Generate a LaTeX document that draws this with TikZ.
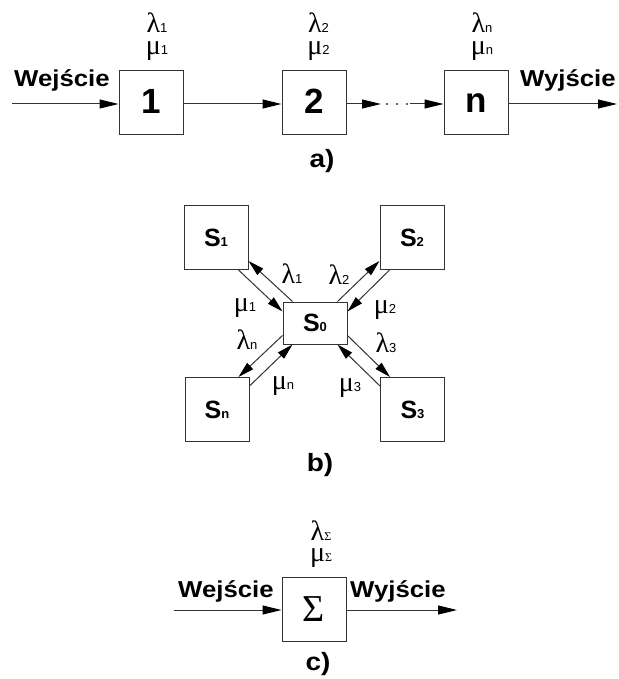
\documentclass[tikz,border=0pt]{standalone}
\usepackage{fontspec}
\setmainfont{Liberation Serif}
\newfontfamily\lsans{Liberation Sans}
\newfontfamily\lwide[FakeStretch=1.12]{Liberation Sans}
\usetikzlibrary{arrows.meta}
\newcommand\gk[2]{{\fontsize{28}{28}\selectfont #1}{\fontsize{13}{13}\selectfont #2}}
\newcommand\gpair[3]{\vtop{\baselineskip=#3\lineskiplimit=-40pt\lineskip=0pt\halign{\hfil##\hfil\cr\gk{λ}{#1}\cr\gk{μ}{#2}\cr}}}
\newcommand\ssub[1]{{\fontsize{13}{13}\selectfont #1}}
\tikzset{
  box/.style={draw=black!80, line width=1pt, inner sep=0pt, minimum width=64pt, minimum height=64pt},
  ln/.style={draw=black!80, line width=1pt},
  arr/.style={ln, -{Triangle[length=19pt,width=9pt,color=black]}},
  arrb/.style={ln, -{Triangle[length=16pt,width=8.5pt,color=black]}},
  big/.style={font=\lsans\bfseries\fontsize{35}{35}\selectfont},
  sfont/.style={font=\lsans\bfseries\fontsize{25}{25}\selectfont},
  lbl/.style={font=\lwide\bfseries\fontsize{23}{23}\selectfont, inner sep=0pt},
  captxt/.style={font=\lwide\bfseries\fontsize{25}{25}\selectfont, inner sep=0pt},
  gl/.style={inner sep=0pt, anchor=base, text depth=0pt},
  gm/.style={inner sep=0pt, anchor=base, text height=12pt},
  gp/.style={inner sep=0pt, anchor=base},
}
\begin{document}
\begin{tikzpicture}[x=1pt,y=-1pt]
\useasboundingbox (0,0) rectangle (618,679);
% ---------- a) ----------
\node[box,big] (b1) at (151,103) {\raisebox{3pt}{1}};
\node[box,big] (b2) at (314,103) {\raisebox{3pt}{2}};
\node[box,big] (bn) at (476,103) {n};
\coordinate (inA) at (12,104);
\coordinate (outA) at (617,104);
\coordinate (d1) at (381,104);
\coordinate (d2) at (410,104);
\draw[arr] (inA) -- (inA -| b1.west);
\draw[arr] (b1.east |- inA) -- (b2.west |- inA);
\draw[arr] (b2.east |- inA) -- (d1);
\fill[black!80] (387,104) circle (1.1pt) (397,104) circle (1.1pt) (407,104) circle (1.1pt);
\draw[arr] (d2) -- (d2 -| bn.west);
\draw[arr] (bn.east |- outA) -- (outA);
\node[gp] (p1) at (157,33) {\gpair{\lsans 1}{\lsans 1}{22pt}};
\node[gp] (p2) at (318.5,33) {\gpair{\lsans 2}{\lsans 2}{22pt}};
\node[gp] (pn) at (482,33) {\gpair{\lsans n}{\lsans n}{22pt}};
\node[lbl, anchor=base west] (inlA) at (14,87) {Wejście};
\node[lbl, anchor=base west] (outlA) at (520,87) {Wyjście};
\node[captxt] (capa) at (322,161) {a)};
% ---------- b) ----------
\node[box,sfont] (S1) at (216,237.5) {\raisebox{-4pt}{S\ssub{1}}};
\node[box,sfont] (S2) at (412,237.5) {\raisebox{-4pt}{S\ssub{2}}};
\node[box,sfont] (Sn) at (217,409.5) {\raisebox{-4pt}{S\ssub{n}}};
\node[box,sfont] (S3) at (412.5,409.5) {\raisebox{-4pt}{S\ssub{3}}};
\node[box,sfont,minimum height=42pt] (S0) at (315,323) {\raisebox{-9pt}{S\ssub{0}}};
% S1 <-> S0
\draw[arrb] ([xshift=10pt]S0.north west) -- ([yshift=9pt]S1.south east);
\draw[arrb] ([xshift=-10pt]S1.south east) -- ([yshift=-10pt]S0.north west);
% S2 <-> S0
\draw[arrb] ([xshift=-10pt]S0.north east) -- ([yshift=9pt]S2.south west);
\draw[arrb] ([xshift=10pt]S2.south west) -- ([yshift=-10pt]S0.north east);
% S3 <-> S0
\draw[arrb] ([yshift=9pt]S0.south east) -- ([xshift=10pt]S3.north west);
\draw[arrb] ([yshift=-9pt]S3.north west) -- ([xshift=-10pt]S0.south east);
% Sn <-> S0
\draw[arrb] ([yshift=9pt]S0.south west) -- ([xshift=-11pt]Sn.north east);
\draw[arrb] ([yshift=-9pt]Sn.north east) -- ([xshift=10pt]S0.south west);
\node[gl] (bl1) at (292,283) {\gk{λ}{\lsans 1}};
\node[gm] (bm1) at (245,311) {\gk{μ}{\lsans 1}};
\node[gl] (bl2) at (339,284) {\gk{λ}{\lsans 2}};
\node[gm] (bm2) at (385,313) {\gk{μ}{\lsans 2}};
\node[gl] (bl3) at (386,352) {\gk{λ}{\lsans 3}};
\node[gm] (bm3) at (350,391) {\gk{μ}{\lsans 3}};
\node[gl] (bln) at (247,349) {\gk{λ}{\lsans n}};
\node[gm] (bmn) at (283,389) {\gk{μ}{\lsans n}};
\node[captxt] (capb) at (320,465) {b)};
% ---------- c) ----------
\node[box] (sig) at (314,609) {\fontsize{38}{38}\selectfont Σ};
\coordinate (inC) at (174,610);
\coordinate (outC) at (457,610);
\draw[arr] (inC) -- (inC -| sig.west);
\draw[arr] (sig.east |- outC) -- (outC);
\node[gp] (pS) at (321,540) {\gpair{\fontsize{12}{12}\selectfont Σ}{\fontsize{12}{12}\selectfont Σ}{21pt}};
\node[lbl, anchor=base west] (inlC) at (178,597) {Wejście};
\node[lbl, anchor=base west] (outlC) at (350,597) {Wyjście};
\node[captxt] (capc) at (318,664) {c)};
\end{tikzpicture}
\end{document}
